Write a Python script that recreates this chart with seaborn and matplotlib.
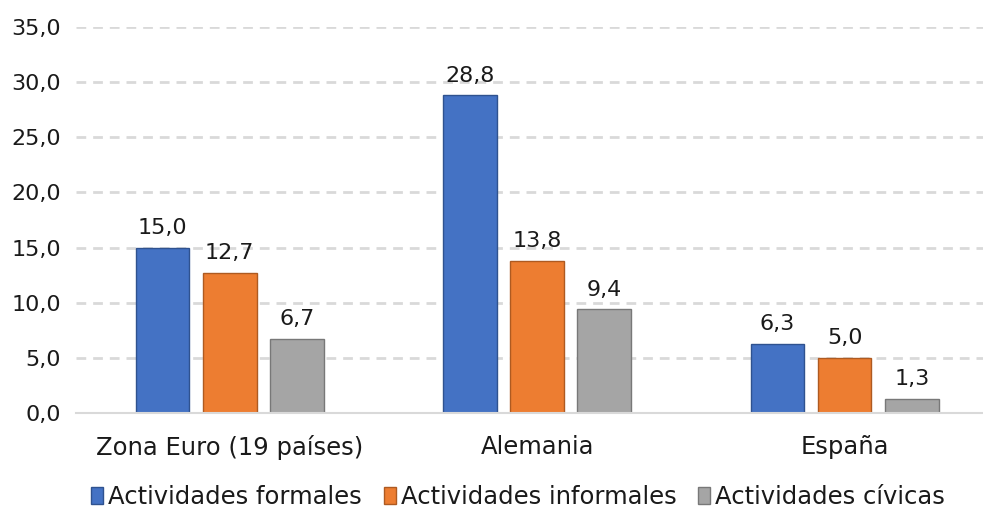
import matplotlib
matplotlib.use("Agg")
import matplotlib.pyplot as plt
import seaborn as sns
import pandas as pd
from matplotlib.patches import Patch

categories = ["Zona Euro (19 países)", "Alemania", "España"]
series = ["Actividades formales", "Actividades informales", "Actividades cívicas"]
formales = [15.0, 28.8, 6.3]
informales = [12.7, 13.8, 5.0]
civicas = [6.7, 9.4, 1.3]
yticks = [0, 5, 10, 15, 20, 25, 30, 35]

colors = ["#4472C4", "#ED7D31", "#A5A5A5"]
edges = ["#2F528F", "#AE5A21", "#787878"]

rows = []
for s, vals in zip(series, [formales, informales, civicas]):
    for c, v in zip(categories, vals):
        rows.append({"cat": c, "serie": s, "valor": v})
df = pd.DataFrame(rows)

sns.set_theme(style="white")
plt.rcParams["font.family"] = ["DejaVu Sans"]

fig = plt.figure(figsize=(9.83, 5.08), dpi=100)
ax = fig.add_axes([76/983, (508-413)/508, (983-76)/983, (413-27)/508])

sns.barplot(data=df, x="cat", y="valor", hue="serie", order=categories,
            hue_order=series, palette=colors, width=0.655, gap=0.2,
            ax=ax, legend=False, saturation=1)

for i, bars in enumerate(ax.containers):
    for b in bars:
        b.set_edgecolor(edges[i])
        b.set_linewidth(1.0)
    ax.bar_label(bars, labels=[f"{v:.1f}".replace(".", ",") for v in bars.datavalues],
                 padding=7, fontsize=16, color="#1a1a1a")

ax.set_ylim(0, 35)
ax.set_xlim(-0.5, 2.45)
ax.set_yticks(yticks)
ax.set_yticklabels([f"{t:.1f}".replace(".", ",") for t in yticks], fontsize=16, color="#1a1a1a")
ax.tick_params(axis="x", labelsize=17.5, colors="#1a1a1a", length=0, pad=16)
ax.tick_params(axis="y", length=0, pad=11)
ax.set_xlabel("")
ax.set_ylabel("")
ax.yaxis.grid(True, color="#D9D9D9", linestyle=(0, (3.5, 2.5)), linewidth=2)
ax.set_axisbelow(True)
for sp in ["top", "right", "left"]:
    ax.spines[sp].set_visible(False)
ax.spines["bottom"].set_color("#D9D9D9")
ax.spines["bottom"].set_linewidth(1.5)

handles = [Patch(facecolor=c, edgecolor=e, label=s) for c, e, s in zip(colors, edges, series)]
fig.legend(handles=handles, loc="center", bbox_to_anchor=(0.527, 11/508), ncol=3,
           frameon=False, fontsize=17.5, handlelength=0.5, handleheight=0.75,
           handletextpad=0.2, columnspacing=0.9, labelcolor="#1a1a1a")

fig.savefig("out.png", dpi=100)
